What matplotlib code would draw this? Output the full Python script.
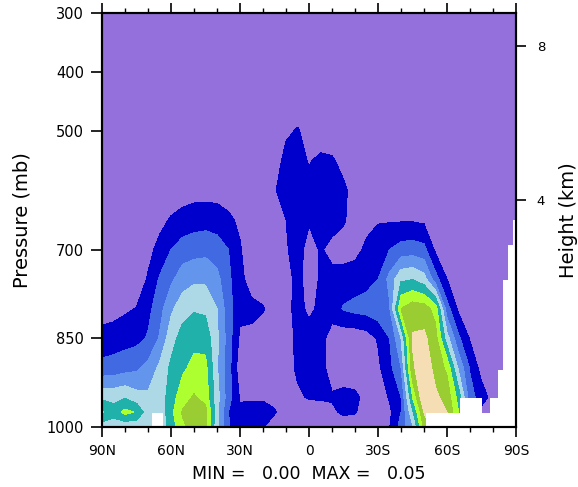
import numpy as np
import matplotlib.pyplot as plt

# grid of the cross section: latitude (deg, + = N) and pressure (mb)
lats = np.arange(90, -95, -5)
plevs = [300, 400, 450, 500, 550, 600, 650, 700, 750, 800, 850, 900, 950, 975, 1000]

# field values (units of 1e-3), one row per pressure level
# columns: 90N..50N | 45N..5N | 0..40S | 45S..90S
q300 = [0] * 37
q400 = [0] * 37
q450 = [0, 0, 0, 0, 0, 0, 0, 0, 0,
        0, 0, 0, 0, 0, 0, 0, 1, 2,
        0.5, 0, 0, 0, 0, 0, 0, 0, 0,
        0, 0, 0, 0, 0, 0, 0, 0, 0, 0]
q500 = [0, 0, 0, 0, 0, 0, 0, 0, 0,
        0, 0, 0, 0, 0, 0, 0.5, 4, 5.5,
        3, 1, 0.5, 0, 0, 0, 0, 0, 0,
        0, 0, 0, 0, 0, 0, 0, 0, 0, 0]
q550 = [0, 0, 0, 0, 0, 0, 0.5, 1, 1,
        1, 1, 0.5, 0, 0, 0.5, 2, 7, 7.5,
        4.5, 6.5, 6, 2.5, 1, 0.5, 1, 1, 1,
        1, 1, 0.5, 0, 0, 0, 0, 0, 0, 0]
q600 = [0, 0, 0, 0, 0.5, 1, 2, 3, 3,
        3, 3, 2.5, 1.5, 0.5, 1, 4.5, 8, 9,
        7, 8, 8, 6.5, 2, 1.5, 2.5, 2.5, 2,
        2.5, 2, 1.5, 0.5, 0, 0, 0, 0, 0, 0]
q650 = [0, 0, 0.5, 0.5, 1, 3.5, 5.5, 6.5, 7.7,
        8, 7.5, 6, 4, 1.5, 1, 2.5, 5, 8,
        5.5, 7, 7, 5.5, 3, 3.5, 4.5, 4.5, 4.5,
        4.5, 4, 2.5, 1, 0.5, 0, 0, 0, 0, 0]
q700 = [0, 0.5, 0.5, 1.5, 3.5, 6.5, 10, 12.5, 13,
        13.5, 12.5, 10, 5.5, 1.5, 1, 1.5, 4.5, 7,
        3, 5.5, 3.5, 3, 3.5, 6, 8, 10, 12,
        12.5, 11.5, 4, 1.5, 0.5, 0, 0, 0, 0, 0]
q750 = [0.5, 1, 1, 2, 5.5, 10.5, 14, 17.5, 19,
        19, 16.5, 11, 6.5, 2.5, 1.5, 1.5, 3, 6.5,
        3, 5.5, 6.5, 7, 7.5, 8.5, 10, 16.5, 24,
        24.8, 22, 12, 5, 2, 1, 0.5, 0, 0, 0]
q800 = [2.5, 3, 4.2, 5.2, 8.5, 13, 19, 23, 24.5,
        24, 20, 12, 6.5, 6.5, 5.5, 2, 3.5, 6.5,
        4, 6, 7, 10.5, 11.5, 12, 13, 14.5, 35,
        38, 37.5, 33, 12, 4, 1, 0.5, 0.5, 0, 0]
q850 = [7, 7.5, 8, 8.5, 10.5, 15.5, 23, 27, 28.5,
        28, 21, 12.5, 4, 3.5, 2, 1.5, 3, 6,
        7, 6.5, 3, 1.5, 1.5, 2.5, 5.5, 10, 20,
        40.5, 41, 37, 22, 11, 4.5, 1, 1, 0.5, 0.5]
q900 = [11.5, 12, 13, 14, 16.5, 21, 26, 29, 31.5,
        31.5, 20.5, 12, 2, 1.5, 1.5, 1.5, 2.5, 6,
        7.5, 6.5, 3, 2, 2, 2, 4, 8.5, 15,
        39, 44, 38, 34, 19, 9.5, 3, 1.5, 1, 1]
q950 = [24, 23.5, 24.5, 22, 21, 22, 27.5, 33, 35.5,
        33, 22, 12, 4.5, 4.5, 4.5, 3.5, 2, 4,
        5.5, 5.5, 5.5, 6.5, 6, 3.5, 2, 5.5, 10,
        30, 45, 41, 38, 28, 12, 7.5, 3, 1, 1]
q975 = [30.5, 27, 31.5, 29.5, 22, 21, 28.5, 35.5, 37,
        37, 21, 10, 6, 6.5, 6.5, 5.5, 2, 1.5,
        2, 3, 4, 6, 5.5, 2, 1.5, 4, 10,
        24, 40, 50, 40, 30, 12, 3, 2, 1, 1]
q1000 = [22, 22, 21, 21, 20, 21, 27, 34, 37,
         36, 21, 10.5, 6.5, 6, 5.2, 2.5, 1, 1,
         1, 1, 1, 1.5, 1, 1, 1.5, 4.8, 12,
         19, 36, 45, 40, 30, 10, 3, 2, 1, 1]

# missing data below the surface (white)
ground_lat = [-50.9, -65.7, -75.2, -78.7, -82.2, -84.3, -86.5, -88.7, -90]
ground_p = [976, 951, 976, 951, 904, 751, 692, 650, 650]
nh_ground_lat = [68.3, 63.5]
nh_ground_p = [976, 976]

clevs = [0, 0.005, 0.01, 0.015, 0.02, 0.025, 0.03, 0.035, 0.04, 0.055]
colors = ['mediumpurple', 'mediumblue', 'royalblue', 'cornflowerblue', 'lightblue',
          'lightseagreen', 'greenyellow', 'yellowgreen', 'wheat']

field = np.array([q300, q400, q450, q500, q550, q600, q650, q700, q750,
                  q800, q850, q900, q950, q975, q1000]) / 1000.0

fig = plt.figure(figsize=(5.78, 4.87), dpi=100)
ax = fig.add_axes([0.1765, 0.1232, 0.7163, 0.8501])

ax.contourf(lats, plevs, field, levels=clevs, colors=colors)
ax.fill_between(ground_lat, ground_p, 1000, step='post', color='white', lw=0, zorder=1.5)
ax.fill_between(nh_ground_lat, nh_ground_p, 1000, color='white', lw=0, zorder=1.5)

ax.set_xlim(90, -90)
ax.set_ylim(1000, 300)
ax.set_xticks([90, 60, 30, 0, -30, -60, -90])
ax.set_xticklabels(['90N', '60N', '30N', '0', '30S', '60S', '90S'])
ax.set_xticks(np.arange(90, -91, -10), minor=True)
ax.set_yticks([300, 400, 500, 700, 850, 1000])
ax.set_yticklabels(['300', '400', '500', '700', '850', '1000'])

ax.tick_params(axis='x', which='both', top=True, direction='out')
ax.tick_params(axis='x', which='major', length=7, width=1.2, pad=5, labelsize=10)
ax.tick_params(axis='x', which='minor', length=3.5, width=1)
ax.tick_params(axis='y', which='major', length=8, width=1.2, pad=5, labelsize=10.5)
for s in ax.spines.values():
    s.set_linewidth(1.5)

ax.set_ylabel('Pressure (mb)', fontsize=14, va='center')
ax.yaxis.set_label_coords(-0.193, 0.5)

# height axis (standard atmosphere)
heights = [4, 8]
ax2 = ax.twinx()
ax2.set_ylim(1000, 300)
ax2.set_yticks([1013.25 * (1 - 2.25577e-5 * h * 1000) ** 5.25588 for h in heights])
ax2.set_yticklabels([str(h) for h in heights])
ax2.tick_params(axis='y', length=7, width=1.2, pad=8, labelsize=9.5)
for s in ax2.spines.values():
    s.set_linewidth(1.5)
ax2.set_ylabel('Height (km)', fontsize=14, va='center')
ax2.yaxis.set_label_coords(1.126, 0.5)

mn = field.min()
mx = field.max()
ax.text(0.5, -0.113, 'MIN = %6.2f  MAX = %6.2f' % (mn, mx), transform=ax.transAxes,
        ha='center', va='center', fontsize=12.5)

fig.savefig('out.png', dpi=100)
